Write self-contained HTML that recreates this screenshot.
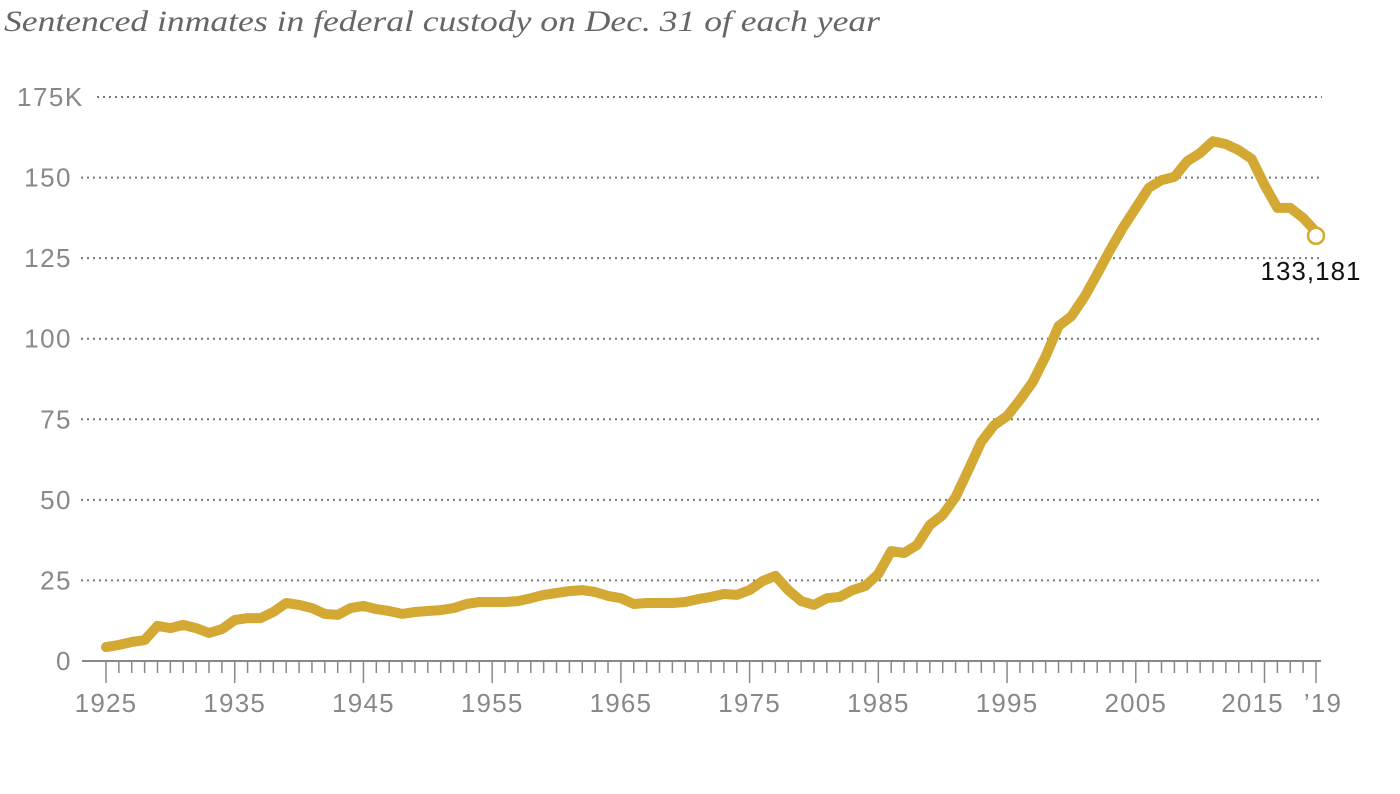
<!DOCTYPE html>
<html><head><meta charset="utf-8"><style>
body{margin:0;background:#fff;width:1400px;height:789px;overflow:hidden;font-family:"Liberation Sans",sans-serif}
</style></head><body>
<svg id="chart" width="1400" height="789" xmlns="http://www.w3.org/2000/svg">
<text x="4" y="31" font-family="Liberation Serif, serif" font-style="italic" font-size="30" fill="#666" textLength="876" lengthAdjust="spacingAndGlyphs">Sentenced inmates in federal custody on Dec. 31 of each year</text>
<g id="grid"></g><g id="xaxis"></g><g id="series"></g>
</svg>
<script>
const years=[];for(let y=1925;y<=2019;y++)years.push(y);
const inmates=[4.3,5.0,5.9,6.5,10.9,10.2,11.2,10.2,8.7,9.9,12.7,13.3,13.3,15.2,18.0,17.4,16.4,14.6,14.3,16.4,17.1,16.1,15.5,14.6,15.2,15.5,15.8,16.4,17.7,18.3,18.3,18.3,18.6,19.5,20.5,21.1,21.7,22.0,21.4,20.2,19.5,17.7,18.0,18.0,18.0,18.3,19.2,19.9,20.8,20.5,22.0,24.8,26.4,22.0,18.6,17.4,19.5,19.9,22.0,23.3,27.0,34.1,33.5,36.0,42.2,45.3,50.9,59.3,68.0,73.2,76.0,81.0,86.6,94.6,103.9,107.0,112.9,120.1,127.5,134.4,140.6,146.8,149.2,150.2,155.1,157.6,161.3,160.4,158.5,155.8,147.7,140.6,140.6,137.5,133.181];
const yTicks=[0,25,50,75,100,125,150,175];
const yTickLabels=["0","25","50","75","100","125","150","175K"];
const xTickYears=[1925,1935,1945,1955,1965,1975,1985,1995,2005,2015,2019];
const xTickLabels=["1925","1935","1945","1955","1965","1975","1985","1995","2005","2015","’19"];
const NS="http://www.w3.org/2000/svg";
const x=v=>106+(v-1925)*(1316-106)/94;
const y=v=>661-v*(661-97)/175;
function mk(tag,attrs,parent,text){const e=document.createElementNS(NS,tag);for(const k in attrs)e.setAttribute(k,attrs[k]);if(text!==undefined)e.textContent=text;parent.appendChild(e);return e;}
const grid=document.getElementById('grid');
yTicks.forEach((t,i)=>{
 if(t>0){const l=mk('line',{x1:t===175?97:81,x2:1322,y1:y(t),y2:y(t),stroke:'#777','stroke-width':2,'stroke-dasharray':'2,4'},grid);
 
 }
 const attrs=t===175?{x:17,y:y(t)+9,'font-size':26,fill:'#888','letter-spacing':1.5}:{x:72,y:y(t)+9,'font-size':26,fill:'#888','text-anchor':'end','letter-spacing':1.5};
 const tx=mk('text',attrs,grid,yTickLabels[i]);
 
 
});
const xa=document.getElementById('xaxis');
const base=mk('line',{x1:82,x2:1321,y1:661,y2:661,stroke:'#888','stroke-width':2},xa);


years.forEach(yr=>{const major=xTickYears.includes(yr);
 const tk=mk('line',{x1:x(yr),x2:x(yr),y1:661,y2:major?683:673,stroke:'#888','stroke-width':1.5},xa);
 
 });
xTickYears.forEach((yr,i)=>{const t=mk('text',{x:x(yr)+(yr===2015?-12:0)+(yr===2019?7:0),y:712,'font-size':26,fill:'#888','text-anchor':'middle','letter-spacing':1.2},xa,xTickLabels[i]);
 
 });
const s=document.getElementById('series');
const d=years.map((yr,i)=>(i?'L':'M')+x(yr).toFixed(1)+','+y(inmates[i]).toFixed(1)).join('');
const p=mk('path',{d:d,fill:'none',stroke:'#d3a933','stroke-width':10,'stroke-linejoin':'round','stroke-linecap':'round'},s);


const li=years.length-1;
const c=mk('circle',{cx:x(years[li]),cy:y(inmates[li])+4,r:8,fill:'#fff',stroke:'#d3a933','stroke-width':2.5},s);


const lab=mk('text',{x:1311,y:y(inmates[li])+48,'font-size':26,fill:'#111','text-anchor':'middle','letter-spacing':1},s,Math.round(inmates[li]*1000).toLocaleString('en-US'));


</script>
</body></html>
